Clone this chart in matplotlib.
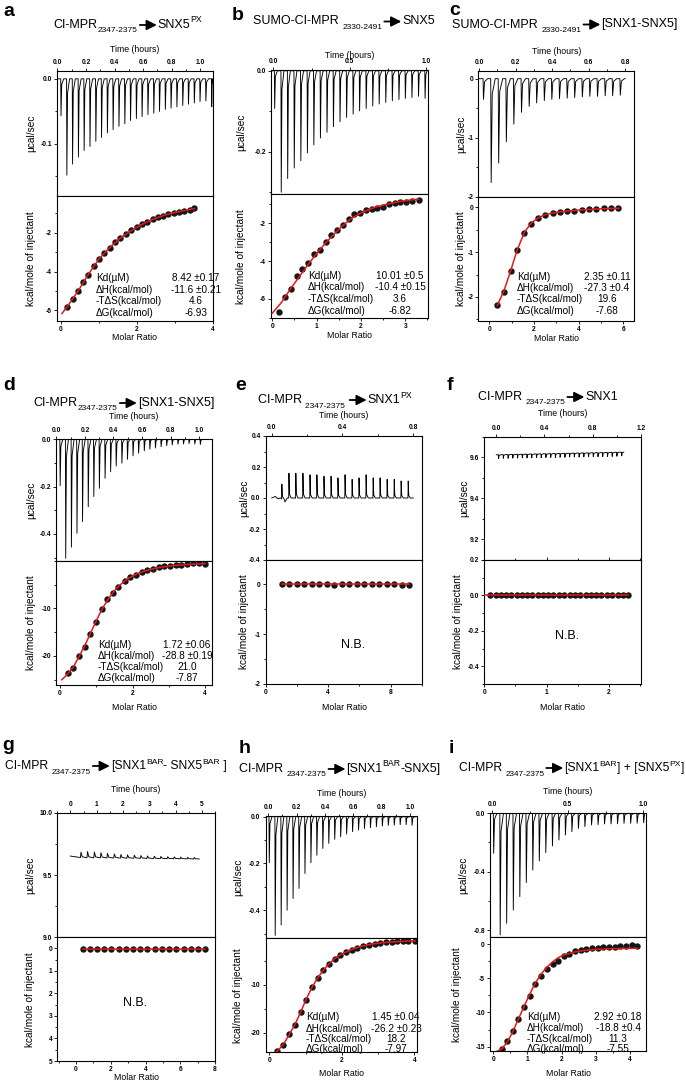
import numpy as np
import matplotlib
matplotlib.use("Agg")
import matplotlib.pyplot as plt
from matplotlib.patches import FancyArrowPatch
from matplotlib.ticker import AutoMinorLocator

W, H = 686, 1087
plt.rcParams['font.family'] = ['Liberation Sans', 'DejaVu Sans']
plt.rcParams['axes.unicode_minus'] = False
plt.rcParams['axes.linewidth'] = 0.8

stat_names = ['Kd(µM)', 'ΔH(kcal/mol)', '-TΔS(kcal/mol)', 'ΔG(kcal/mol)']

# ---------------- a : CI-MPR 2347-2375 -> SNX5 PX
a_inj_t = [0.023, 0.064, 0.104, 0.145, 0.185, 0.226, 0.267, 0.307, 0.348, 0.388, 0.429, 0.470, 0.510, 0.551,
           0.591, 0.632, 0.673, 0.713, 0.754, 0.794, 0.835, 0.876, 0.916, 0.957, 0.997, 1.038, 1.079]
a_inj_p = [-0.057, -0.148, -0.131, -0.120, -0.110, -0.104, -0.096, -0.090, -0.083, -0.078, -0.073, -0.069,
           -0.064, -0.061, -0.058, -0.055, -0.053, -0.050, -0.047, -0.045, -0.043, -0.041, -0.039, -0.037,
           -0.035, -0.034, -0.043]
a_base_t = [0.0, 1.085]
a_base_y = [0.0, 0.0]
a_x = [0.16, 0.31, 0.45, 0.58, 0.72, 0.86, 1.00, 1.14, 1.28, 1.42, 1.56, 1.71, 1.85, 1.99, 2.13, 2.27, 2.41,
       2.55, 2.69, 2.83, 2.97, 3.11, 3.25, 3.39, 3.51]
a_y = [-5.83, -5.42, -5.03, -4.56, -4.17, -3.71, -3.35, -3.04, -2.77, -2.50, -2.26, -2.07, -1.88, -1.69,
       -1.56, -1.42, -1.30, -1.20, -1.11, -1.03, -0.96, -0.91, -0.85, -0.80, -0.74]
a_fit_x = [0.03, 0.16, 0.45, 0.72, 1.00, 1.28, 1.56, 1.85, 2.13, 2.41, 2.69, 2.97, 3.25, 3.51]
a_fit_y = [-6.17, -5.84, -5.02, -4.16, -3.36, -2.77, -2.28, -1.89, -1.57, -1.31, -1.11, -0.96, -0.85, -0.75]
a_stats = ['8.42 ±0.17', '-11.6 ±0.21', '4.6', '-6.93']

# ---------------- b : SUMO-CI-MPR 2330-2491 -> SNX5
b_inj_t = [0.007, 0.050, 0.092, 0.135, 0.178, 0.221, 0.263, 0.306, 0.349, 0.391, 0.434, 0.477, 0.520, 0.562,
           0.605, 0.648, 0.690, 0.733, 0.776, 0.819, 0.861, 0.904, 0.947, 0.990]
b_inj_p = [-0.093, -0.300, -0.266, -0.240, -0.222, -0.203, -0.183, -0.166, -0.152, -0.138, -0.126, -0.115,
           -0.107, -0.099, -0.093, -0.087, -0.082, -0.078, -0.074, -0.071, -0.068, -0.066, -0.063, -0.068]
b_base_t = [-0.012, 1.005]
b_base_y = [0.0, 0.0]
b_x = [0.16, 0.29, 0.42, 0.55, 0.68, 0.81, 0.94, 1.07, 1.20, 1.33, 1.46, 1.59, 1.72, 1.85, 1.98, 2.11, 2.24,
       2.37, 2.50, 2.63, 2.76, 2.89, 3.02, 3.15, 3.30]
b_y = [-6.67, -5.91, -5.45, -4.77, -4.42, -4.10, -3.62, -3.42, -2.97, -2.60, -2.38, -2.10, -1.78, -1.52,
       -1.45, -1.30, -1.25, -1.18, -1.12, -1.00, -0.92, -0.90, -0.87, -0.85, -0.76]
b_fit_x = [0.0, 0.2, 0.4, 0.6, 0.8, 1.0, 1.2, 1.4, 1.6, 1.8, 2.0, 2.3, 2.6, 2.9, 3.3]
b_fit_y = [-6.75, -6.2, -5.5, -4.85, -4.2, -3.6, -3.05, -2.55, -2.1, -1.72, -1.45, -1.17, -0.98, -0.84, -0.72]
b_stats = ['10.01 ±0.5', '-10.4 ±0.15', '3.6', '-6.82']

# ---------------- c : SUMO-CI-MPR 2330-2491 -> [SNX1-SNX5]
c_inj_t = [0.022, 0.064, 0.105, 0.147, 0.188, 0.230, 0.272, 0.313, 0.355, 0.396, 0.438, 0.480, 0.521, 0.563,
           0.604, 0.646, 0.688, 0.729, 0.771]
c_inj_p = [-0.35, -1.76, -1.43, -1.07, -0.77, -0.57, -0.47, -0.41, -0.37, -0.35, -0.34, -0.33, -0.32, -0.31,
           -0.30, -0.30, -0.29, -0.29, -0.28]
c_base_t = [0.0, 0.80]
c_base_y = [0.0, 0.0]
c_x = [0.36, 0.66, 0.96, 1.25, 1.57, 1.87, 2.19, 2.51, 2.84, 3.15, 3.48, 3.81, 4.13, 4.46, 4.79, 5.12, 5.45, 5.78]
c_y = [-2.19, -1.88, -1.41, -0.94, -0.56, -0.36, -0.24, -0.17, -0.13, -0.10, -0.08, -0.07, -0.06, -0.04,
       -0.04, -0.02, -0.01, -0.01]
c_fit_x = [0.36, 0.66, 0.96, 1.25, 1.57, 1.87, 2.2, 2.5, 3.0, 3.5, 4.0, 5.0, 5.8]
c_fit_y = [-2.19, -1.86, -1.41, -0.95, -0.56, -0.35, -0.23, -0.16, -0.11, -0.08, -0.06, -0.03, -0.02]
c_stats = ['2.35 ±0.11', '-27.3 ±0.4', '19.6', '-7.68']

# ---------------- d : CI-MPR 2347-2375 -> [SNX1-SNX5]
d_inj_t = [0.024, 0.063, 0.103, 0.142, 0.181, 0.221, 0.260, 0.299, 0.339, 0.378, 0.417, 0.457, 0.496, 0.535,
           0.574, 0.614, 0.653, 0.692, 0.732, 0.771, 0.810, 0.850, 0.889, 0.928, 0.968, 1.007]
d_inj_p = [-0.196, -0.503, -0.456, -0.397, -0.348, -0.285, -0.242, -0.207, -0.165, -0.137, -0.113, -0.101,
           -0.085, -0.070, -0.059, -0.049, -0.042, -0.037, -0.031, -0.027, -0.024, -0.021, -0.020, -0.018,
           -0.020, -0.022]
d_base_t = [0.0, 1.06]
d_base_y = [0.0, 0.0]
d_x = [0.21, 0.37, 0.52, 0.68, 0.83, 0.99, 1.15, 1.31, 1.46, 1.61, 1.78, 1.93, 2.09, 2.25, 2.39, 2.56, 2.72,
       2.87, 3.03, 3.19, 3.35, 3.51, 3.66, 3.84, 4.00]
d_y = [-23.5, -22.45, -20.0, -18.05, -15.45, -12.9, -10.2, -8.1, -6.7, -5.5, -4.2, -3.4, -2.9, -2.45, -2.0,
       -1.7, -1.4, -1.2, -1.05, -0.9, -0.8, -0.6, -0.55, -0.55, -0.7]
d_fit_x = [0.05, 0.21, 0.37, 0.52, 0.68, 0.83, 0.99, 1.15, 1.31, 1.46, 1.61, 1.78, 1.93, 2.2, 2.5, 2.8, 3.1,
           3.5, 4.0]
d_fit_y = [-25.0, -23.8, -22.3, -20.2, -17.9, -15.4, -12.8, -10.3, -8.3, -6.7, -5.4, -4.3, -3.5, -2.5, -1.8,
           -1.35, -1.05, -0.8, -0.6]
d_stats = ['1.72 ±0.06', '-28.8 ±0.19', '21.0', '-7.87']

# ---------------- e : CI-MPR 2347-2375 -> SNX1 PX
e_inj_t = [0.056, 0.096, 0.135, 0.175, 0.215, 0.254, 0.294, 0.334, 0.373, 0.413, 0.453, 0.492, 0.532, 0.572,
           0.611, 0.651, 0.691, 0.730, 0.770]
e_inj_p = [0.09, 0.16, 0.16, 0.16, 0.15, 0.15, 0.14, 0.14, 0.13, 0.15, 0.12, 0.13, 0.15, 0.13, 0.13, 0.12,
           0.12, 0.11, 0.11]
e_base_t = [0.0, 0.02, 0.035, 0.05, 0.075, 0.088, 0.80]
e_base_y = [0.0, 0.01, -0.005, 0.0, -0.025, 0.0, 0.0]
e_x = [1.02, 1.50, 1.98, 2.46, 2.94, 3.42, 3.90, 4.38, 4.86, 5.34, 5.82, 6.30, 6.78, 7.26, 7.74, 8.22, 8.70, 9.18]
e_y = [0.01, 0.01, 0.0, 0.01, 0.0, 0.0, 0.0, -0.01, 0.0, 0.0, 0.01, 0.0, 0.01, 0.0, 0.0, 0.0, -0.01, -0.01]
e_fit_x = [1.02, 9.18]
e_fit_y = [0.0, 0.0]

# ---------------- f : CI-MPR 2347-2375 -> SNX1
f_inj_t = [0.017, 0.056, 0.096, 0.135, 0.174, 0.214, 0.253, 0.292, 0.332, 0.371, 0.410, 0.450, 0.489, 0.528,
           0.568, 0.607, 0.646, 0.686, 0.725, 0.764, 0.804, 0.843, 0.882, 0.922, 0.961, 1.000, 1.040]
f_inj_p = [9.594, 9.595, 9.595, 9.596, 9.596, 9.597, 9.597, 9.597, 9.598, 9.598, 9.599, 9.599, 9.599, 9.600,
           9.600, 9.601, 9.601, 9.601, 9.602, 9.602, 9.603, 9.603, 9.603, 9.604, 9.604, 9.605, 9.607]
f_base_t = [0.0, 1.06]
f_base_y = [9.612, 9.625]
f_x = [0.09, 0.18, 0.26, 0.35, 0.43, 0.52, 0.60, 0.69, 0.77, 0.86, 0.94, 1.03, 1.11, 1.20, 1.28, 1.37, 1.46,
       1.54, 1.63, 1.71, 1.80, 1.88, 1.97, 2.05, 2.14, 2.22, 2.31]
f_y = [0.0, 0.0, 0.0, 0.0, 0.0, 0.0, 0.0, 0.0, 0.0, 0.0, 0.0, 0.0, 0.0, 0.0, 0.0, 0.0, 0.0, 0.0, 0.0, 0.0,
       0.0, 0.0, 0.0, 0.0, 0.0, 0.0, 0.0]
f_fit_x = [0.0, 2.31]
f_fit_y = [0.0, 0.0]

# ---------------- g : CI-MPR 2347-2375 -> [SNX1 BAR - SNX5 BAR]
g_inj_t = [0.38, 0.63, 0.89, 1.14, 1.39, 1.65, 1.90, 2.15, 2.41, 2.66, 2.91, 3.17, 3.42, 3.68, 3.93, 4.18,
           4.44, 4.69]
g_inj_p = [9.683, 9.688, 9.684, 9.679, 9.674, 9.669, 9.665, 9.662, 9.659, 9.656, 9.653, 9.651, 9.649, 9.647,
           9.645, 9.644, 9.642, 9.641]
g_base_t = [0.0, 0.38, 4.9]
g_base_y = [9.652, 9.640, 9.628]
g_x = [0.38, 0.79, 1.21, 1.62, 2.04, 2.45, 2.87, 3.28, 3.70, 4.11, 4.53, 4.94, 5.36, 5.77, 6.19, 6.60, 7.02, 7.43]
g_y = [0.05, 0.05, 0.05, 0.05, 0.04, 0.05, 0.05, 0.05, 0.05, 0.05, 0.04, 0.05, 0.05, 0.05, 0.05, 0.05, 0.04, 0.04]
g_fit_x = [0.38, 7.43]
g_fit_y = [0.05, 0.05]

# ---------------- h : CI-MPR 2347-2375 -> [SNX1 BAR - SNX5]
h_inj_t = [0.005, 0.047, 0.089, 0.131, 0.173, 0.215, 0.257, 0.299, 0.341, 0.383, 0.425, 0.467, 0.509, 0.551,
           0.593, 0.635, 0.677, 0.719, 0.761, 0.803, 0.845, 0.887, 0.929, 0.971, 1.013]
h_inj_p = [-0.197, -0.508, -0.463, -0.400, -0.350, -0.307, -0.243, -0.197, -0.165, -0.136, -0.114, -0.097,
           -0.086, -0.074, -0.064, -0.057, -0.051, -0.047, -0.043, -0.040, -0.037, -0.036, -0.034, -0.034, -0.037]
h_base_t = [-0.015, 1.04]
h_base_y = [0.0, 0.0]
h_x = [0.22, 0.39, 0.55, 0.71, 0.87, 1.01, 1.17, 1.33, 1.49, 1.65, 1.80, 1.96, 2.12, 2.27, 2.43, 2.58, 2.74,
       2.90, 3.06, 3.21, 3.37, 3.52, 3.68, 3.83, 4.02]
h_y = [-23.8, -22.6, -20.2, -18.4, -15.6, -13.1, -10.5, -8.6, -6.9, -5.7, -4.5, -3.7, -3.1, -2.7, -2.2, -1.9,
       -1.6, -1.4, -1.26, -1.13, -0.98, -0.84, -0.84, -0.9, -0.85]
h_fit_x = [0.05, 0.22, 0.39, 0.55, 0.71, 0.87, 1.01, 1.17, 1.33, 1.49, 1.65, 1.8, 1.96, 2.2, 2.5, 2.8, 3.1,
           3.5, 4.02]
h_fit_y = [-24.7, -23.9, -22.4, -20.4, -18.2, -15.6, -13.1, -10.6, -8.6, -6.9, -5.6, -4.5, -3.7, -2.8, -2.0,
           -1.5, -1.2, -0.95, -0.8]
h_stats = ['1.45 ±0.04', '-26.2 ±0.23', '18.2', '-7.97']

# ---------------- i : CI-MPR 2347-2375 -> [SNX1 BAR] + [SNX5 PX]
i_inj_t = [0.007, 0.050, 0.093, 0.137, 0.180, 0.223, 0.266, 0.309, 0.352, 0.396, 0.439, 0.482, 0.525, 0.568,
           0.611, 0.655, 0.698, 0.741, 0.784, 0.827, 0.870, 0.914, 0.957, 1.000]
i_inj_p = [-0.274, -0.834, -0.754, -0.663, -0.571, -0.475, -0.389, -0.326, -0.270, -0.224, -0.183, -0.149,
           -0.126, -0.103, -0.091, -0.080, -0.078, -0.073, -0.073, -0.072, -0.069, -0.069, -0.068, -0.065]
i_base_t = [-0.012, 1.012]
i_base_y = [0.0, 0.0]
i_x = [0.25, 0.41, 0.57, 0.73, 0.90, 1.07, 1.23, 1.40, 1.57, 1.74, 1.90, 2.07, 2.23, 2.40, 2.56, 2.73, 2.90,
       3.06, 3.23, 3.40, 3.56, 3.73, 3.89, 4.06, 4.22]
i_y = [-15.35, -14.1, -12.7, -10.96, -9.26, -7.6, -5.9, -4.63, -3.7, -2.97, -2.5, -1.7, -1.4, -1.05, -0.85,
       -0.75, -0.6, -0.55, -0.5, -0.45, -0.4, -0.35, -0.3, -0.1, -0.25]
i_fit_x = [0.05, 0.25, 0.41, 0.57, 0.73, 0.9, 1.07, 1.23, 1.4, 1.57, 1.74, 1.9, 2.07, 2.4, 2.73, 3.06, 3.4,
           3.73, 4.22]
i_fit_y = [-15.8, -15.3, -14.3, -12.8, -11.0, -9.1, -7.3, -5.7, -4.4, -3.4, -2.6, -2.0, -1.6, -1.15, -0.9,
           -0.78, -0.7, -0.66, -0.62]
i_stats = ['2.92 ±0.18', '-18.8 ±0.4', '11.3', '-7.55']


fig = plt.figure(figsize=(W / 100, H / 100), dpi=100)
renderer = fig.canvas.get_renderer()


def fx(x):
    return x / W


def fy(y):
    return 1 - y / H


def add_ax(l, t, r, b):
    return fig.add_axes([l / W, 1 - b / H, (r - l) / W, (b - t) / H])


def setup(ax, xlim, ylim, xt, yt, xf, yf, top=False):
    ax.set_xlim(xlim)
    ax.set_ylim(ylim)
    ax.set_xticks(xt)
    ax.set_xticklabels([xf % v for v in xt])
    ax.set_yticks(yt)
    ax.set_yticklabels([yf % v for v in yt])
    ax.xaxis.set_minor_locator(AutoMinorLocator(2))
    ax.yaxis.set_minor_locator(AutoMinorLocator(2))
    if top:
        ax.xaxis.tick_top()
    ax.tick_params(which='both', direction='out', width=0.6, labelsize=4.8, pad=1.2)
    ax.tick_params(which='major', length=2.5)
    ax.tick_params(which='minor', length=1.4)
    for lab in ax.get_xticklabels() + ax.get_yticklabels():
        lab.set_fontweight('bold')


def thermogram(ax, t, p, bt, by, wpx, width_px):
    x0, x1 = ax.get_xlim()
    w = wpx * (x1 - x0) / width_px
    pts = list(zip(bt, by))
    for ti, pi in zip(t, p):
        b = np.interp(ti, bt, by)
        pts += [(ti, b), (ti + 0.3 * w, pi), (ti + w, b + 0.15 * (pi - b)), (ti + 3 * w, b)]
    pts.sort(key=lambda q: q[0])
    xs, ys = zip(*pts)
    ax.plot(xs, ys, color='black', lw=0.65)


def rich_title(cx, yb, parts, fs=9):
    sizes = {'n': fs, 'sub': fs * 0.67, 'sup': fs * 0.7}
    offs = {'n': 0, 'sub': -4.5, 'sup': 5.5}
    widths = []
    for s, k in parts:
        if k == 'arrow':
            widths.append(20)
        else:
            tt = fig.text(0, 0, s, fontsize=sizes[k])
            widths.append(tt.get_window_extent(renderer).width)
            tt.remove()
    x = cx - sum(widths) / 2
    x = min(max(x, 2), W - 2 - sum(widths))
    for (s, k), wd in zip(parts, widths):
        if k == 'arrow':
            arr = FancyArrowPatch((fx(x + 2), fy(yb - 3)), (fx(x + wd - 1), fy(yb - 3)),
                                  transform=fig.transFigure, arrowstyle='-|>,head_length=0.6,head_width=0.3',
                                  mutation_scale=10, lw=1.3, color='black', shrinkA=0, shrinkB=0)
            fig.add_artist(arr)
        else:
            fig.text(fx(x), fy(yb - offs[k]), s, fontsize=sizes[k], ha='left', va='baseline')
        x += wd


def panel(P):
    l, t, m, r, b = P['box']
    au = add_ax(l, t, r, m)
    al = add_ax(l, m, r, b)
    setup(au, P['uxlim'], P['uylim'], P['uxt'], P['uyt'], P['fmt'][0], P['fmt'][1], top=True)
    setup(al, P['lxlim'], P['lylim'], P['lxt'], P['lyt'], P['fmt'][2], P['fmt'][3])
    if P.get('top_ticks'):
        al.tick_params(which='both', top=True)
    thermogram(au, P['inj_t'], P['inj_p'], P['base_t'], P['base_y'], P['wpx'], r - l)
    al.plot(P['x'], P['y'], 'o', ms=3.6, color='#151515', zorder=2)
    al.plot(P['fit_x'], P['fit_y'], color='#e3191c', lw=1.1, zorder=3)
    cx = (l + r) / 2
    fig.text(fx(cx), fy(P['time_y']), 'Time (hours)', fontsize=6.3, ha='center', va='center')
    fig.text(fx(cx), fy(P['molar_y']), 'Molar Ratio', fontsize=6.3, ha='center', va='center')
    fig.text(fx(P['ylab'][0]), fy((t + m) / 2), 'µcal/sec', fontsize=7.3, rotation=90,
             ha='center', va='center')
    fig.text(fx(P['ylab'][1]), fy((m + b) / 2), 'kcal/mole of injectant', fontsize=7.3, rotation=90,
             ha='center', va='center')
    if 'stats' in P:
        sl, sr, rows = P['stats_pos']
        for name, val, ry in zip(stat_names, P['stats'], rows):
            fig.text(fx(sl), fy(ry), name, fontsize=7.2, ha='left', va='center')
            fig.text(fx(sr), fy(ry), val, fontsize=7.2, ha='center', va='center')
    if 'nb' in P:
        fig.text(fx(P['nb'][0]), fy(P['nb'][1]), 'N.B.', fontsize=9, ha='center', va='center')
    fig.text(fx(P['letter'][1]), fy(P['letter'][2]), P['letter'][0], fontsize=14, fontweight='bold',
             ha='left', va='baseline')
    rich_title(*P['title'])


AR = ('', 'arrow')

panels = [
    dict(box=(57, 71, 196, 213, 320.5), uxlim=(-0.003, 1.09), uylim=(-0.18, 0.012),
         uxt=[0.0, 0.2, 0.4, 0.6, 0.8, 1.0], uyt=[0.0, -0.1],
         lxlim=(-0.1, 4.0), lylim=(-6.53, -0.1), lxt=[0, 2, 4], lyt=[-2, -4, -6],
         fmt=('%.1f', '%.1f', '%d', '%d'), inj_t=a_inj_t, inj_p=a_inj_p, base_t=a_base_t, base_y=a_base_y,
         wpx=1.0, x=a_x, y=a_y, fit_x=a_fit_x, fit_y=a_fit_y, time_y=50, molar_y=337, ylab=(31, 31),
         stats=a_stats, stats_pos=(96, 196, [278, 290, 301.5, 312.5]), letter=('a', 3, 16),
         title=(128, 28, [('CI-MPR', 'n'), ('2347-2375', 'sub'), AR, ('SNX5', 'n'), ('PX', 'sup')])),
    dict(box=(271, 70, 194.3, 428.3, 318.3), uxlim=(-0.015, 1.013), uylim=(-0.305, 0.002),
         uxt=[0.0, 0.5, 1.0], uyt=[0.0, -0.2],
         lxlim=(-0.03, 3.52), lylim=(-7.02, -0.47), lxt=[0, 1, 2, 3], lyt=[-2, -4, -6],
         fmt=('%.1f', '%.1f', '%d', '%d'), inj_t=b_inj_t, inj_p=b_inj_p, base_t=b_base_t, base_y=b_base_y,
         wpx=1.0, x=b_x, y=b_y, fit_x=b_fit_x, fit_y=b_fit_y, time_y=55, molar_y=336, ylab=(241, 241),
         stats=b_stats, stats_pos=(308, 400, [275.7, 287.3, 299, 310.7]), letter=('b', 232, 20),
         title=(344, 24.5, [('SUMO-CI-MPR ', 'n'), ('2330-2491', 'sub'), AR, ('SNX5', 'n')])),
    dict(box=(478.3, 71, 196.7, 634.3, 320.7), uxlim=(-0.004, 0.85), uylim=(-2.0, 0.13),
         uxt=[0.0, 0.2, 0.4, 0.6, 0.8], uyt=[0, -1, -2],
         lxlim=(-0.49, 6.49), lylim=(-2.53, 0.24), lxt=[0, 2, 4, 6], lyt=[0, -1, -2],
         fmt=('%.1f', '%d', '%d', '%d'), inj_t=c_inj_t, inj_p=c_inj_p, base_t=c_base_t, base_y=c_base_y,
         wpx=1.5, x=c_x, y=c_y, fit_x=c_fit_x, fit_y=c_fit_y, time_y=51, molar_y=338, ylab=(461, 461),
         stats=c_stats, stats_pos=(517, 607, [277.3, 288.3, 299.3, 310.7]), letter=('c', 449, 15),
         title=(565, 27.5, [('SUMO-CI-MPR ', 'n'), ('2330-2491', 'sub'), AR, ('[SNX1-SNX5]', 'n')])),
    dict(box=(56, 439, 560.7, 212.3, 685), uxlim=(-0.003, 1.093), uylim=(-0.513, 0.001),
         uxt=[0.0, 0.2, 0.4, 0.6, 0.8, 1.0], uyt=[0.0, -0.2, -0.4],
         lxlim=(-0.11, 4.2), lylim=(-26.1, 0.0), lxt=[0, 2, 4], lyt=[-10, -20],
         fmt=('%.1f', '%.1f', '%d', '%d'), inj_t=d_inj_t, inj_p=d_inj_p, base_t=d_base_t, base_y=d_base_y,
         wpx=1.0, x=d_x, y=d_y, fit_x=d_fit_x, fit_y=d_fit_y, time_y=417, molar_y=707, ylab=(31, 31),
         stats=d_stats, stats_pos=(98, 187, [645, 656, 667.3, 678.3]), letter=('d', 3, 390),
         title=(124, 406, [('CI-MPR', 'n'), ('2347-2375', 'sub'), AR, ('[SNX1-SNX5]', 'n')])),
    dict(box=(265.7, 436, 560, 422.3, 684), uxlim=(-0.034, 0.851), uylim=(-0.4, 0.4),
         uxt=[0.0, 0.4, 0.8], uyt=[0.4, 0.2, 0.0, -0.2, -0.4],
         lxlim=(0, 10.03), lylim=(-2.0, 0.49), lxt=[0, 4, 8], lyt=[0, -1, -2],
         fmt=('%.1f', '%.1f', '%d', '%d'), inj_t=e_inj_t, inj_p=e_inj_p, base_t=e_base_t, base_y=e_base_y,
         wpx=0.8, x=e_x, y=e_y, fit_x=e_fit_x, fit_y=e_fit_y, time_y=415, molar_y=707, ylab=(244, 244),
         nb=(353, 645), letter=('e', 235, 390),
         title=(335, 403, [('CI-MPR ', 'n'), ('2347-2375 ', 'sub'), AR, ('SNX1', 'n'), ('PX', 'sup')])),
    dict(box=(484.3, 436.7, 560, 640.7, 684), uxlim=(-0.1, 1.2), uylim=(9.10, 9.70),
         uxt=[0.0, 0.4, 0.8, 1.2], uyt=[9.2, 9.4, 9.6],
         lxlim=(0, 2.51), lylim=(-0.5, 0.2), lxt=[0, 1, 2], lyt=[0.2, 0.0, -0.2, -0.4],
         fmt=('%.1f', '%.1f', '%d', '%.1f'), inj_t=f_inj_t, inj_p=f_inj_p, base_t=f_base_t, base_y=f_base_y,
         wpx=0.8, x=f_x, y=f_y, fit_x=f_fit_x, fit_y=f_fit_y, time_y=414, molar_y=707, ylab=(464, 458),
         nb=(567, 636), letter=('f', 447, 390), top_ticks=True,
         title=(548, 400, [('CI-MPR ', 'n'), ('2347-2375', 'sub'), AR, ('SNX1', 'n')])),
    dict(box=(57.3, 812.7, 937.3, 215, 1061), uxlim=(-0.5, 5.5), uylim=(9.0, 10.0),
         uxt=[0, 1, 2, 3, 4, 5], uyt=[9.0, 9.5, 10.0],
         lxlim=(-1.08, 8.0), lylim=(5.0, -0.49), lxt=[0, 2, 4, 6, 8], lyt=[0, 1, 2, 3, 4, 5],
         fmt=('%d', '%.1f', '%d', '%d'), inj_t=g_inj_t, inj_p=g_inj_p, base_t=g_base_t, base_y=g_base_y,
         wpx=1.8, x=g_x, y=g_y, fit_x=g_fit_x, fit_y=g_fit_y, time_y=790, molar_y=1078, ylab=(30, 30),
         nb=(135, 1003), letter=('g', 2, 750),
         title=(116, 769, [('CI-MPR ', 'n'), ('2347-2375', 'sub'), AR, ('[SNX1', 'n'), ('BAR', 'sup'),
                           ('- SNX5', 'n'), ('BAR', 'sup'), (' ]', 'n')], 8.7)),
    dict(box=(265.7, 816, 938, 417.3, 1052.3), uxlim=(-0.018, 1.052), uylim=(-0.519, 0.003),
         uxt=[0.0, 0.2, 0.4, 0.6, 0.8, 1.0], uyt=[0.0, -0.2, -0.4],
         lxlim=(-0.1, 4.08), lylim=(-24.1, -0.2), lxt=[0, 2, 4], lyt=[-10, -20],
         fmt=('%.1f', '%.1f', '%d', '%d'), inj_t=h_inj_t, inj_p=h_inj_p, base_t=h_base_t, base_y=h_base_y,
         wpx=1.0, x=h_x, y=h_y, fit_x=h_fit_x, fit_y=h_fit_y, time_y=793, molar_y=1073, ylab=(238, 238),
         stats=h_stats, stats_pos=(306, 396, [1017.5, 1028.5, 1039.5, 1049.5]), letter=('h', 239, 753),
         title=(340, 772, [('CI-MPR ', 'n'), ('2347-2375', 'sub'), AR, ('[SNX1', 'n'), ('BAR', 'sup'),
                           ('-SNX5]', 'n')])),
    dict(box=(490, 813.3, 937.3, 646, 1051), uxlim=(-0.015, 1.018), uylim=(-0.85, 0.0),
         uxt=[0.0, 0.5, 1.0], uyt=[0.0, -0.4, -0.8],
         lxlim=(-0.1, 4.48), lylim=(-15.63, 0.98), lxt=[0, 1, 2, 3, 4], lyt=[0, -5, -10, -15],
         fmt=('%.1f', '%.1f', '%d', '%d'), inj_t=i_inj_t, inj_p=i_inj_p, base_t=i_base_t, base_y=i_base_y,
         wpx=1.2, x=i_x, y=i_y, fit_x=i_fit_x, fit_y=i_fit_y, time_y=792, molar_y=1073, ylab=(463, 457),
         stats=i_stats, stats_pos=(527, 618, [1017.3, 1028.3, 1039, 1049.3]), letter=('i', 449, 753),
         title=(573, 771, [('CI-MPR ', 'n'), ('2347-2375', 'sub'), AR, ('[SNX1', 'n'), ('BAR', 'sup'),
                           ('] + [SNX5', 'n'), ('PX', 'sup'), (']', 'n')], 8.7)),
]

for P in panels:
    panel(P)

fig.savefig('out.png', dpi=100)
